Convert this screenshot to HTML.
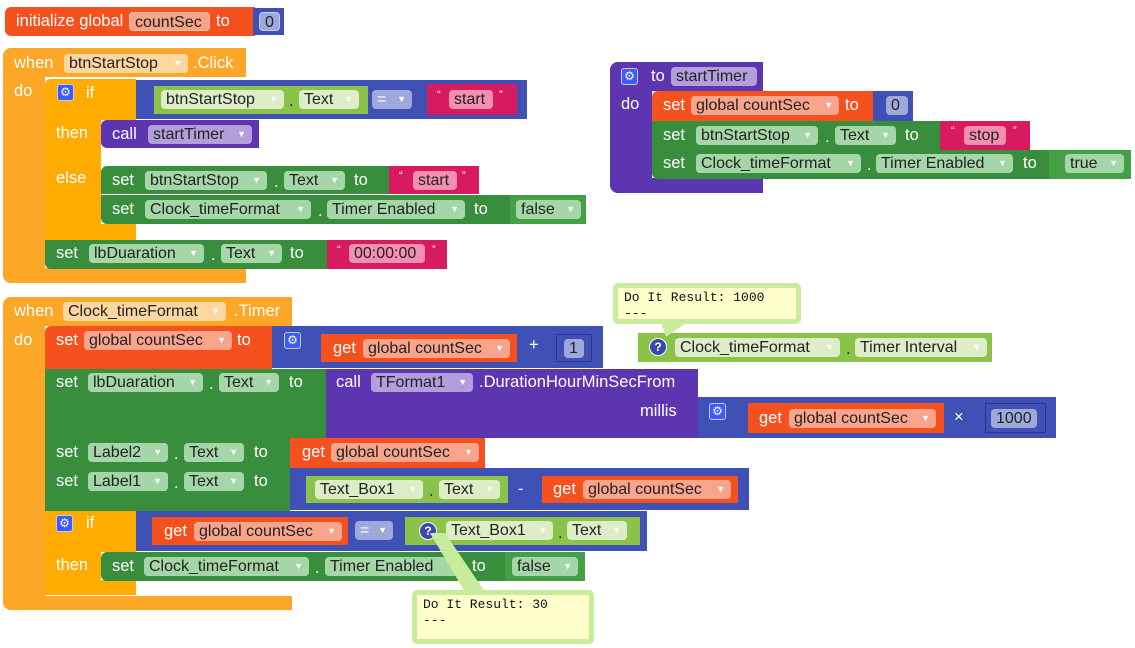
<!DOCTYPE html>
<html><head><meta charset="utf-8"><style>
body{margin:0;width:1135px;height:648px;background:#fff;position:relative;overflow:hidden;font-family:"Liberation Sans",sans-serif}
div,span{position:absolute;box-sizing:border-box}
.t{color:#fff;font-size:16.5px;line-height:18px;white-space:nowrap}
.p{height:19px;border-radius:4px;font-size:16px;line-height:19px;color:#222;padding-left:5px;white-space:nowrap}
.p i{position:absolute;right:6px;top:0;font-style:normal;font-size:9px;color:#fff}
.ev{background:#fca728}.ct{background:#ffab00}.vr{background:#f4511e}.sg{background:#388e3c}
.lg{background:#8bc34a}.bl{background:#3f51b5}.pu{background:#5e35b1}.pk{background:#d81b60}
.pv{background:#f9a58d}.pg{background:#a5d6a7}.pl{background:#dcedc8}.pb{background:#9fa8da}.pp{background:#b39ddb}.ppk{background:#f48fb1}
.g{width:17px;height:17px;border-radius:3px;background:#3d5afe;border:1px solid #c5cae9;color:#fff;font-size:12px;line-height:15px;text-align:center}
.q{width:18px;height:18px;border-radius:50%;background:#3949ab;border:1px solid #fff;color:#fff;font-size:12px;font-weight:bold;line-height:16px;text-align:center}
.co{background:#ffffcc;border:5px solid #c8ec9c;border-radius:5px;font-family:"Liberation Mono",monospace;font-size:13px;line-height:16px;color:#111;padding:2px 6px;white-space:pre}
</style></head><body>

<!-- init global -->
<div class="vr" style="left:5px;top:7px;width:250px;height:29px;border-radius:6px 0 0 6px"></div>
<span class="t" style="left:16px;top:12px">initialize global</span>
<div class="p" style="left:129px;top:12px;width:81px;background:#f7a489;border:1px solid #f9c0a8">countSec</div>
<span class="t" style="left:216px;top:12px">to</span>
<div class="bl" style="left:253px;top:8px;width:31px;height:27px"></div>
<div class="p pb" style="left:259px;top:12px;width:21px;border:1px solid #c5cae9">0</div>

<!-- event 1 -->
<div class="ev" style="left:3px;top:48px;width:243px;height:29px;border-radius:8px 0 0 0"></div>
<div class="ev" style="left:3px;top:48px;width:42px;height:235px;border-radius:8px 0 0 8px"></div>
<div class="ev" style="left:3px;top:268px;width:243px;height:15px;border-radius:0 0 0 8px"></div>
<span class="t" style="left:14px;top:54px">when</span>
<div class="p" style="left:64px;top:54px;width:124px;background:#fdd6a0">btnStartStop<i>▼</i></div>
<span class="t" style="left:193px;top:54px">.Click</span>
<span class="t" style="left:14px;top:82px">do</span>

<div class="ct" style="left:45px;top:79px;width:91px;height:41px;border-radius:6px 0 0 0"></div>
<div class="ct" style="left:45px;top:79px;width:56px;height:161px;border-radius:6px 0 0 6px"></div>
<div class="ct" style="left:45px;top:224px;width:91px;height:16px"></div>
<div class="g" style="left:57px;top:84px">⚙</div>
<span class="t" style="left:86px;top:84px">if</span>
<span class="t" style="left:56px;top:124px">then</span>
<span class="t" style="left:56px;top:169px">else</span>

<div class="bl" style="left:136px;top:80px;width:391px;height:39px"></div>
<div class="lg" style="left:154px;top:86px;width:214px;height:28px"></div>
<div class="p pl" style="left:161px;top:90px;width:123px">btnStartStop<i>▼</i></div>
<span class="t" style="left:289px;top:92px;color:#222">.</span>
<div class="p pl" style="left:299px;top:90px;width:60px">Text<i>▼</i></div>
<div class="p pb" style="left:372px;top:90px;width:40px;color:#fff">=<i>▼</i></div>
<div class="pk" style="left:427px;top:84px;width:90px;height:31px"></div>
<span class="t" style="left:437px;top:86px;font-size:11px">“</span>
<div class="p ppk" style="left:449px;top:90px;width:44px">start</div>
<span class="t" style="left:499px;top:86px;font-size:11px">”</span>

<div class="pu" style="left:101px;top:120px;width:158px;height:28px;border-radius:6px 0 0 6px"></div>
<span class="t" style="left:112px;top:125px">call</span>
<div class="p pp" style="left:148px;top:125px;width:104px">startTimer<i>▼</i></div>

<div class="sg" style="left:101px;top:166px;width:288px;height:28px;border-radius:6px 0 0 0"></div>
<span class="t" style="left:112px;top:171px">set</span>
<div class="p pg" style="left:145px;top:171px;width:122px">btnStartStop<i>▼</i></div>
<span class="t" style="left:274px;top:173px">.</span>
<div class="p pg" style="left:284px;top:171px;width:61px">Text<i>▼</i></div>
<span class="t" style="left:354px;top:171px">to</span>
<div class="pk" style="left:389px;top:166px;width:90px;height:28px"></div>
<span class="t" style="left:399px;top:167px;font-size:11px">“</span>
<div class="p ppk" style="left:413px;top:171px;width:44px">start</div>
<span class="t" style="left:462px;top:167px;font-size:11px">”</span>

<div class="sg" style="left:101px;top:195px;width:409px;height:29px;border-radius:0 0 0 6px"></div>
<span class="t" style="left:112px;top:200px">set</span>
<div class="p pg" style="left:145px;top:200px;width:166px">Clock_timeFormat<i>▼</i></div>
<span class="t" style="left:318px;top:202px">.</span>
<div class="p pg" style="left:327px;top:200px;width:138px">Timer Enabled<i>▼</i></div>
<span class="t" style="left:474px;top:200px">to</span>
<div class="sg" style="left:510px;top:195px;width:76px;height:29px;background:#43a047"></div>
<div class="p pg" style="left:516px;top:200px;width:65px">false<i>▼</i></div>

<div class="sg" style="left:45px;top:240px;width:282px;height:29px;border-radius:0 0 0 6px"></div>
<span class="t" style="left:56px;top:244px">set</span>
<div class="p pg" style="left:89px;top:244px;width:115px">lbDuaration<i>▼</i></div>
<span class="t" style="left:211px;top:246px">.</span>
<div class="p pg" style="left:221px;top:244px;width:61px">Text<i>▼</i></div>
<span class="t" style="left:290px;top:244px">to</span>
<div class="pk" style="left:327px;top:240px;width:120px;height:29px"></div>
<span class="t" style="left:337px;top:241px;font-size:11px">“</span>
<div class="p ppk" style="left:349px;top:244px;width:76px">00:00:00</div>
<span class="t" style="left:432px;top:241px;font-size:11px">”</span>

<!-- procedure startTimer -->
<div class="pu" style="left:610px;top:62px;width:153px;height:29px;border-radius:8px 0 0 0"></div>
<div class="pu" style="left:610px;top:62px;width:42px;height:131px;border-radius:8px 0 0 8px"></div>
<div class="pu" style="left:610px;top:178px;width:153px;height:15px;border-radius:0 0 0 8px"></div>
<div class="g" style="left:621px;top:68px">⚙</div>
<span class="t" style="left:651px;top:67px">to</span>
<div class="p pp" style="left:671px;top:67px;width:86px">startTimer</div>
<span class="t" style="left:621px;top:95px">do</span>

<div class="vr" style="left:652px;top:91px;width:221px;height:30px;border-radius:6px 0 0 0"></div>
<span class="t" style="left:663px;top:96px">set</span>
<div class="p pv" style="left:691px;top:96px;width:148px">global countSec<i>▼</i></div>
<span class="t" style="left:845px;top:96px">to</span>
<div class="bl" style="left:873px;top:91px;width:40px;height:30px"></div>
<div class="p pb" style="left:886px;top:96px;width:22px">0</div>

<div class="sg" style="left:652px;top:121px;width:288px;height:29px"></div>
<span class="t" style="left:663px;top:126px">set</span>
<div class="p pg" style="left:696px;top:126px;width:122px">btnStartStop<i>▼</i></div>
<span class="t" style="left:825px;top:128px">.</span>
<div class="p pg" style="left:835px;top:126px;width:61px">Text<i>▼</i></div>
<span class="t" style="left:905px;top:126px">to</span>
<div class="pk" style="left:940px;top:121px;width:90px;height:29px"></div>
<span class="t" style="left:951px;top:122px;font-size:11px">“</span>
<div class="p ppk" style="left:964px;top:126px;width:42px">stop</div>
<span class="t" style="left:1013px;top:122px;font-size:11px">”</span>

<div class="sg" style="left:652px;top:150px;width:397px;height:29px;border-radius:0 0 0 6px"></div>
<span class="t" style="left:663px;top:154px">set</span>
<div class="p pg" style="left:696px;top:154px;width:165px">Clock_timeFormat<i>▼</i></div>
<span class="t" style="left:867px;top:156px">.</span>
<div class="p pg" style="left:876px;top:154px;width:137px">Timer Enabled<i>▼</i></div>
<span class="t" style="left:1023px;top:154px">to</span>
<div class="sg" style="left:1049px;top:150px;width:82px;height:29px;background:#43a047"></div>
<div class="p pg" style="left:1065px;top:154px;width:59px">true<i>▼</i></div>

<!-- event 2 -->
<div class="ev" style="left:3px;top:297px;width:289px;height:29px;border-radius:8px 0 0 0"></div>
<div class="ev" style="left:3px;top:297px;width:42px;height:313px;border-radius:8px 0 0 8px"></div>
<div class="ev" style="left:3px;top:596px;width:289px;height:14px;border-radius:0 0 0 8px"></div>
<span class="t" style="left:14px;top:302px">when</span>
<div class="p" style="left:63px;top:302px;width:163px;background:#fdd6a0">Clock_timeFormat<i>▼</i></div>
<span class="t" style="left:234px;top:302px">.Timer</span>
<span class="t" style="left:14px;top:331px">do</span>

<div class="vr" style="left:45px;top:326px;width:227px;height:43px;border-radius:6px 0 0 0"></div>
<span class="t" style="left:56px;top:331px">set</span>
<div class="p pv" style="left:84px;top:331px;width:148px">global countSec<i>▼</i></div>
<span class="t" style="left:237px;top:331px">to</span>
<div class="bl" style="left:272px;top:326px;width:331px;height:42px"></div>
<div class="g" style="left:284px;top:332px">⚙</div>
<div class="vr" style="left:321px;top:334px;width:196px;height:28px"></div>
<span class="t" style="left:333px;top:339px">get</span>
<div class="p pv" style="left:363px;top:339px;width:147px">global countSec<i>▼</i></div>
<span class="t" style="left:529px;top:336px">+</span>
<div class="bl" style="left:556px;top:334px;width:36px;height:28px;border:1px solid #283593"></div>
<div class="p pb" style="left:564px;top:339px;width:20px">1</div>

<div class="sg" style="left:45px;top:369px;width:281px;height:69px"></div>
<span class="t" style="left:56px;top:373px">set</span>
<div class="p pg" style="left:88px;top:373px;width:115px">lbDuaration<i>▼</i></div>
<span class="t" style="left:209px;top:375px">.</span>
<div class="p pg" style="left:219px;top:373px;width:60px">Text<i>▼</i></div>
<span class="t" style="left:289px;top:373px">to</span>
<div class="pu" style="left:326px;top:369px;width:372px;height:69px;background:#5e35b1"></div>
<span class="t" style="left:336px;top:373px">call</span>
<div class="p pp" style="left:371px;top:373px;width:102px">TFormat1<i>▼</i></div>
<span class="t" style="left:479px;top:373px">.DurationHourMinSecFrom</span>
<span class="t" style="left:640px;top:402px">millis</span>
<div class="bl" style="left:698px;top:397px;width:358px;height:41px"></div>
<div class="g" style="left:709px;top:403px">⚙</div>
<div class="vr" style="left:748px;top:403px;width:196px;height:30px"></div>
<span class="t" style="left:759px;top:409px">get</span>
<div class="p pv" style="left:789px;top:409px;width:147px">global countSec<i>▼</i></div>
<span class="t" style="left:954px;top:408px">×</span>
<div class="bl" style="left:985px;top:403px;width:61px;height:30px;border:1px solid #283593"></div>
<div class="p pb" style="left:991px;top:409px;width:46px">1000</div>

<div class="sg" style="left:45px;top:438px;width:245px;height:30px"></div>
<span class="t" style="left:56px;top:443px">set</span>
<div class="p pg" style="left:88px;top:443px;width:80px">Label2<i>▼</i></div>
<span class="t" style="left:174px;top:445px">.</span>
<div class="p pg" style="left:184px;top:443px;width:60px">Text<i>▼</i></div>
<span class="t" style="left:254px;top:443px">to</span>
<div class="vr" style="left:290px;top:438px;width:195px;height:30px"></div>
<span class="t" style="left:302px;top:443px">get</span>
<div class="p pv" style="left:331px;top:443px;width:148px">global countSec<i>▼</i></div>

<div class="sg" style="left:45px;top:468px;width:245px;height:43px"></div>
<span class="t" style="left:56px;top:472px">set</span>
<div class="p pg" style="left:88px;top:472px;width:80px">Label1<i>▼</i></div>
<span class="t" style="left:174px;top:474px">.</span>
<div class="p pg" style="left:184px;top:472px;width:60px">Text<i>▼</i></div>
<span class="t" style="left:254px;top:472px">to</span>
<div class="bl" style="left:290px;top:468px;width:459px;height:42px"></div>
<div class="lg" style="left:306px;top:476px;width:202px;height:27px"></div>
<div class="p pl" style="left:315px;top:480px;width:108px">Text_Box1<i>▼</i></div>
<span class="t" style="left:429px;top:482px;color:#222">.</span>
<div class="p pl" style="left:439px;top:480px;width:61px">Text<i>▼</i></div>
<span class="t" style="left:518px;top:480px">-</span>
<div class="vr" style="left:542px;top:476px;width:196px;height:27px"></div>
<span class="t" style="left:553px;top:480px">get</span>
<div class="p pv" style="left:583px;top:480px;width:148px">global countSec<i>▼</i></div>

<div class="ct" style="left:45px;top:511px;width:91px;height:41px;border-radius:6px 0 0 0"></div>
<div class="ct" style="left:45px;top:511px;width:56px;height:84px;border-radius:0 0 0 6px"></div>
<div class="ct" style="left:45px;top:580px;width:91px;height:15px"></div>
<div class="g" style="left:56px;top:515px">⚙</div>
<span class="t" style="left:86px;top:514px">if</span>
<span class="t" style="left:56px;top:556px">then</span>
<div class="bl" style="left:136px;top:511px;width:511px;height:40px"></div>
<div class="vr" style="left:152px;top:517px;width:196px;height:28px"></div>
<span class="t" style="left:164px;top:522px">get</span>
<div class="p pv" style="left:194px;top:522px;width:148px">global countSec<i>▼</i></div>
<div class="p pb" style="left:355px;top:521px;width:38px;color:#fff">=<i>▼</i></div>
<div class="lg" style="left:405px;top:517px;width:235px;height:28px"></div>
<div class="q" style="left:419px;top:522px">?</div>
<div class="p pl" style="left:446px;top:521px;width:107px">Text_Box1<i>▼</i></div>
<span class="t" style="left:558px;top:524px;color:#222">.</span>
<div class="p pl" style="left:567px;top:521px;width:60px">Text<i>▼</i></div>

<div class="sg" style="left:101px;top:552px;width:404px;height:29px;border-radius:6px 0 0 6px"></div>
<span class="t" style="left:112px;top:557px">set</span>
<div class="p pg" style="left:144px;top:557px;width:165px">Clock_timeFormat<i>▼</i></div>
<span class="t" style="left:315px;top:559px">.</span>
<div class="p pg" style="left:325px;top:557px;width:138px">Timer Enabled<i>▼</i></div>
<span class="t" style="left:472px;top:557px">to</span>
<div class="sg" style="left:505px;top:552px;width:80px;height:29px;background:#43a047"></div>
<div class="p pg" style="left:512px;top:557px;width:66px">false<i>▼</i></div>

<!-- getter Timer Interval -->
<div class="lg" style="left:638px;top:333px;width:354px;height:29px"></div>
<div class="q" style="left:649px;top:338px">?</div>
<div class="p pl" style="left:675px;top:338px;width:165px">Clock_timeFormat<i>▼</i></div>
<span class="t" style="left:846px;top:340px;color:#222">.</span>
<div class="p pl" style="left:855px;top:338px;width:132px">Timer Interval<i>▼</i></div>

<!-- callouts -->
<svg style="position:absolute;left:0;top:0" width="1135" height="648">
<polygon points="660,320 690,320 666,337" fill="#c8ec9c"/>
<polygon points="430,533 445,533 485,592 465,592" fill="#c8ec9c"/>
</svg>
<div class="co" style="left:613px;top:283px;width:188px;height:41px">Do It Result: 1000
---</div>
<div class="co" style="left:412px;top:590px;width:182px;height:54px">Do It Result: 30
---</div>
</body></html>
